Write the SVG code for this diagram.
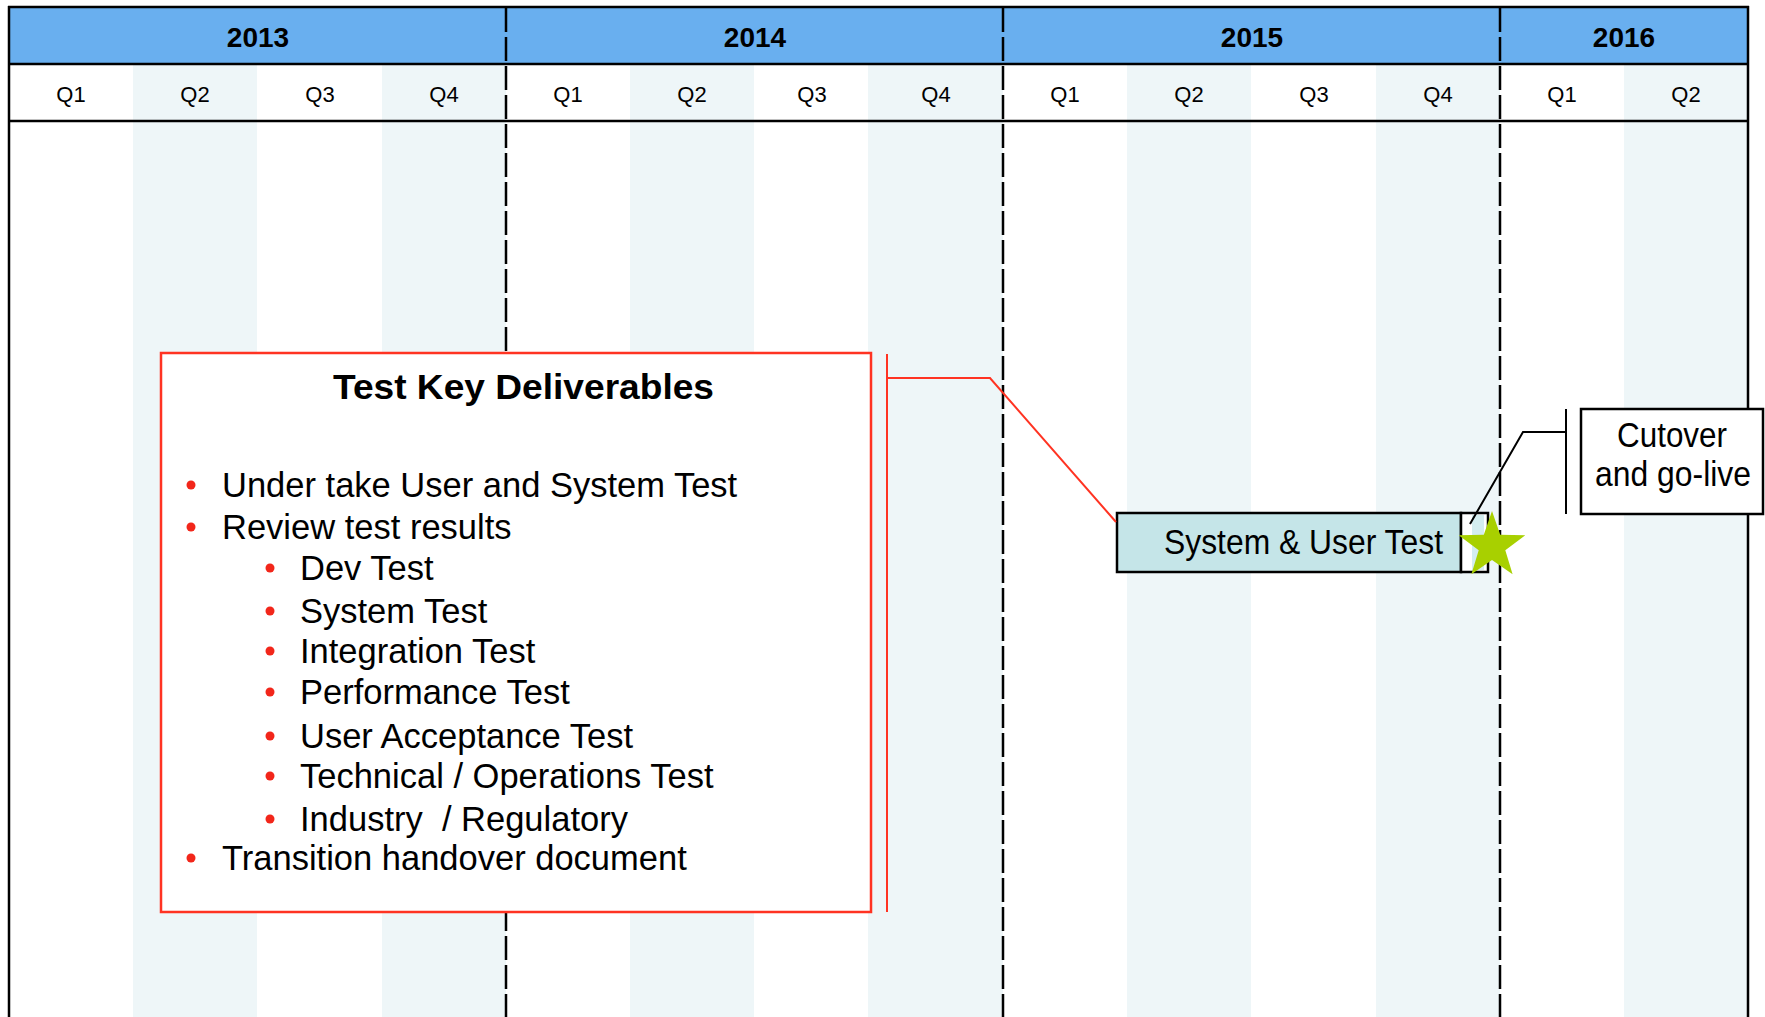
<svg xmlns="http://www.w3.org/2000/svg" width="1765" height="1017" viewBox="0 0 1765 1017">
<style>
.shade{fill:#EEF6F8}
.frame{stroke:#000;stroke-width:2.5;fill:none}
.dash{stroke:#000;stroke-width:2.5;stroke-dasharray:24 5;fill:none}
.year{font-family:"Liberation Sans",Arial,sans-serif;font-weight:bold;font-size:28px;text-anchor:middle;fill:#000}
.q{font-family:"Liberation Sans",Arial,sans-serif;font-size:22px;text-anchor:middle;fill:#000}
.t{font-family:"Liberation Sans",Arial,sans-serif;font-size:34.5px;fill:#000}
.bul{fill:#F2261A}
.red{stroke:#FF3322;stroke-width:2;fill:none}
</style>
<rect x="0" y="0" width="1765" height="1017" fill="#fff"/>
<g id="grid">
<rect class="shade" x="133" y="64" width="124" height="953"/>
<rect class="shade" x="382" y="64" width="124" height="953"/>
<rect class="shade" x="630" y="64" width="124" height="953"/>
<rect class="shade" x="868" y="64" width="135" height="953"/>
<rect class="shade" x="1127" y="64" width="124" height="953"/>
<rect class="shade" x="1376" y="64" width="124" height="953"/>
<rect class="shade" x="1624" y="64" width="124" height="953"/>
<rect x="9" y="7" width="1739" height="57" fill="#69AFEF"/>
<line class="frame" x1="8" y1="7" x2="1749" y2="7"/>
<line class="frame" x1="8" y1="64" x2="1749" y2="64"/>
<line class="frame" x1="8" y1="121" x2="1749" y2="121"/>
<line class="frame" x1="9" y1="6" x2="9" y2="1017"/>
<line class="frame" x1="1748" y1="6" x2="1748" y2="1017"/>
<line class="dash" x1="506" y1="8" x2="506" y2="1017"/>
<line class="dash" x1="1003" y1="8" x2="1003" y2="1017"/>
<line class="dash" x1="1500" y1="8" x2="1500" y2="1017"/>
<text class="year" x="258" y="47">2013</text>
<text class="year" x="755" y="47">2014</text>
<text class="year" x="1252" y="47">2015</text>
<text class="year" x="1624" y="47">2016</text>
<text class="q" x="71" y="102">Q1</text>
<text class="q" x="195" y="102">Q2</text>
<text class="q" x="320" y="102">Q3</text>
<text class="q" x="444" y="102">Q4</text>
<text class="q" x="568" y="102">Q1</text>
<text class="q" x="692" y="102">Q2</text>
<text class="q" x="812" y="102">Q3</text>
<text class="q" x="936" y="102">Q4</text>
<text class="q" x="1065" y="102">Q1</text>
<text class="q" x="1189" y="102">Q2</text>
<text class="q" x="1314" y="102">Q3</text>
<text class="q" x="1438" y="102">Q4</text>
<text class="q" x="1562" y="102">Q1</text>
<text class="q" x="1686" y="102">Q2</text>
</g>
<g id="node-key-deliverables">
<rect x="161" y="353" width="710" height="559" fill="#fff" stroke="#FF3322" stroke-width="2.5"/>
<text class="t" x="333" y="399" font-weight="bold" font-size="37" textLength="381" lengthAdjust="spacingAndGlyphs">Test Key Deliverables</text>
<circle class="bul" cx="191" cy="485" r="4.5"/>
<text class="t" x="222" y="497">Under take User and System Test</text>
<circle class="bul" cx="191" cy="527" r="4.5"/>
<text class="t" x="222" y="539">Review test results</text>
<circle class="bul" cx="270" cy="568" r="4.5"/>
<text class="t" x="300" y="580">Dev Test</text>
<circle class="bul" cx="270" cy="611" r="4.5"/>
<text class="t" x="300" y="623">System Test</text>
<circle class="bul" cx="270" cy="651" r="4.5"/>
<text class="t" x="300" y="663">Integration Test</text>
<circle class="bul" cx="270" cy="692" r="4.5"/>
<text class="t" x="300" y="704">Performance Test</text>
<circle class="bul" cx="270" cy="736" r="4.5"/>
<text class="t" x="300" y="748">User Acceptance Test</text>
<circle class="bul" cx="270" cy="776" r="4.5"/>
<text class="t" x="300" y="788">Technical / Operations Test</text>
<circle class="bul" cx="270" cy="819" r="4.5"/>
<text class="t" x="300" y="831" xml:space="preserve">Industry  / Regulatory</text>
<circle class="bul" cx="191" cy="858" r="4.5"/>
<text class="t" x="222" y="870">Transition handover document</text>
</g>
<g id="node-system-user-test">
<rect x="1117" y="513" width="344" height="59" fill="#C5E5E8" stroke="#000" stroke-width="2.5"/>
<rect x="1461" y="513" width="27" height="59" fill="#fff" stroke="#000" stroke-width="2.5"/>
<rect x="1472" y="515" width="12" height="55" fill="#D3EDF0"/>
<text class="t" x="1164" y="554" font-size="31" textLength="279" lengthAdjust="spacingAndGlyphs">System &amp; User Test</text>
</g>
<g id="connectors">
<line class="red" x1="887" y1="354" x2="887" y2="912"/>
<polyline class="red" points="887,378 990,378 1116,522"/>
<line stroke="#000" stroke-width="2" x1="1566" y1="409" x2="1566" y2="514"/>
<polyline stroke="#000" stroke-width="2" fill="none" points="1566,432 1523,432 1470,524"/>
</g>
<g id="node-milestone">
<polygon fill="#A8D000" points="1492,511 1500.2,534.7 1525.3,535.2 1505.3,550.3 1512.6,574.3 1492,560 1471.4,574.3 1478.7,550.3 1458.7,535.2 1483.8,534.7"/>
</g>
<g id="node-cutover">
<rect x="1581" y="409" width="182" height="105" fill="#fff" stroke="#000" stroke-width="2.5"/>
<text class="t" x="1617" y="447" font-size="31" textLength="110" lengthAdjust="spacingAndGlyphs">Cutover</text>
<text class="t" x="1595" y="486" font-size="31" textLength="156" lengthAdjust="spacingAndGlyphs">and go-live</text>
</g>
</svg>
